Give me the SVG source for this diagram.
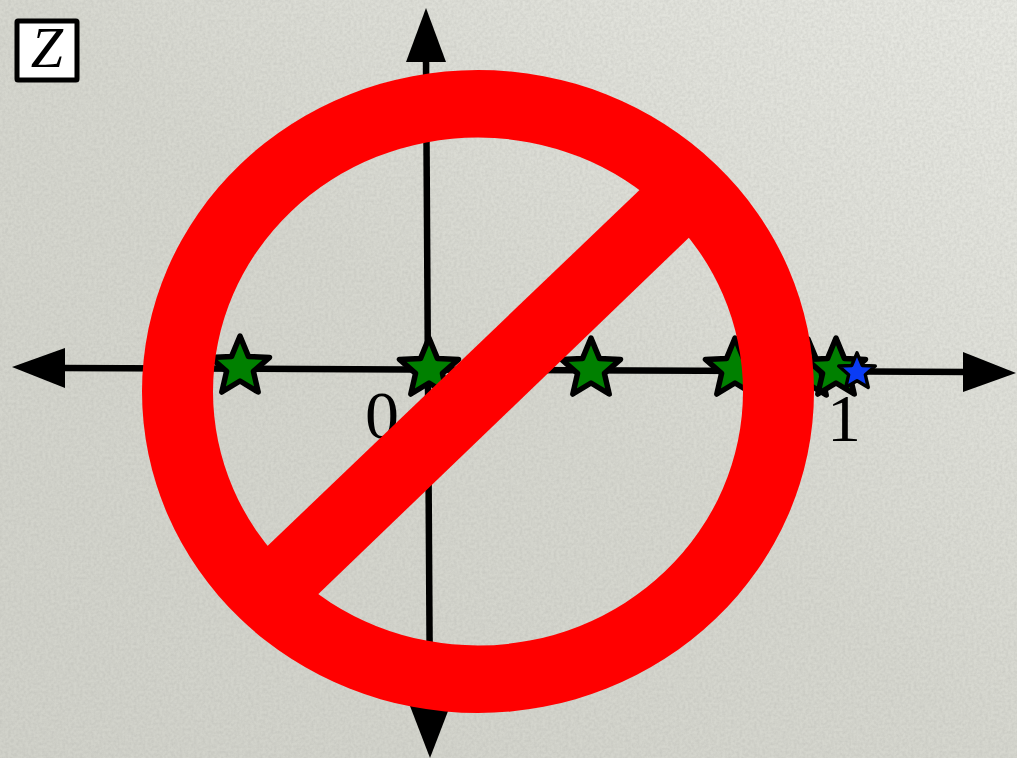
<svg xmlns="http://www.w3.org/2000/svg" width="1017" height="758" viewBox="0 0 1017 758">
<style>
.axis{fill:none;stroke:#000;stroke-width:6.5}
.head{fill:#000}
.star{stroke:#000;stroke-width:5.5;stroke-linejoin:round}
.lbl{font-family:"Liberation Serif","Times New Roman",serif;fill:#000}
</style>
<defs>
<linearGradient id="bg" x1="0" y1="1" x2="1" y2="0">
<stop offset="0" stop-color="#d1d2ca"/><stop offset="0.5" stop-color="#d6d7cf"/><stop offset="1" stop-color="#e8e9e3"/>
</linearGradient>
<filter id="noise" x="0" y="0" width="100%" height="100%">
<feTurbulence type="fractalNoise" baseFrequency="0.35" numOctaves="2" seed="4"/>
<feColorMatrix values="0 0 0 0 0.35 0 0 0 0 0.35 0 0 0 0 0.33 0.4 0 0 0 -0.12"/>
</filter>
<polygon id="star" points="0,-31 8.4,-10.6 29.5,-9.6 13.4,4.4 18.2,25 0,14 -18.2,25 -13.4,4.4 -29.5,-9.6 -8.4,-10.6"/>
</defs>
<g id="background">
<rect width="1017" height="758" fill="url(#bg)"/>
<rect width="1017" height="758" filter="url(#noise)"/>
</g>
<g id="connectors">
<path class="axis" d="M60 368 L968 372"/>
<path class="axis" d="M426 58 L430 712"/>
<polygon class="head" points="12,367 65,348 65,388"/>
<polygon class="head" points="1016,373 963,352 963,392"/>
<polygon class="head" points="426,8 406,62 446,62"/>
<polygon class="head" points="430,758 410,706 450,706"/>
</g>
<g id="label-zero"><text class="lbl" x="365" y="438" font-size="68">0</text></g>
<g id="label-one"><text class="lbl" x="827" y="441" font-size="68">1</text></g>
<g id="z-box">
<rect x="17" y="21" width="60" height="59" rx="1" fill="#fff" stroke="#000" stroke-width="5"/>
<text x="47" y="67" font-size="58" text-anchor="middle" font-style="italic" font-family="'Liberation Serif',serif" fill="#000">Z</text>
</g>
<g id="star-1"><use href="#star" x="240" y="367" class="star" fill="#008000"/></g>
<g id="star-2"><use href="#star" x="429" y="369" class="star" fill="#008000"/></g>
<g id="star-3"><use href="#star" x="591" y="369" class="star" fill="#008000"/></g>
<g id="star-4"><use href="#star" x="735" y="369" class="star" fill="#008000"/></g>
<g id="star-5"><use href="#star" x="808" y="370" class="star" fill="#008000"/></g>
<g id="star-6"><use href="#star" x="836" y="369" class="star" fill="#008000"/></g>
<g id="star-7"><use href="#star" x="857" y="372" transform="translate(857 372) scale(.62) translate(-857 -372)" class="star" fill="#0a3cf5"/></g>
<g id="prohibition-sign" fill="#ff0000">
<path fill-rule="evenodd" d="M142 391.5 A336 321.5 0 1 0 814 391.5 A336 321.5 0 1 0 142 391.5 Z M213 391.5 A265 254 0 1 1 743 391.5 A265 254 0 1 1 213 391.5 Z"/>
<polygon points="650,180 700,227 308,604 257,556"/>
</g>
</svg>
